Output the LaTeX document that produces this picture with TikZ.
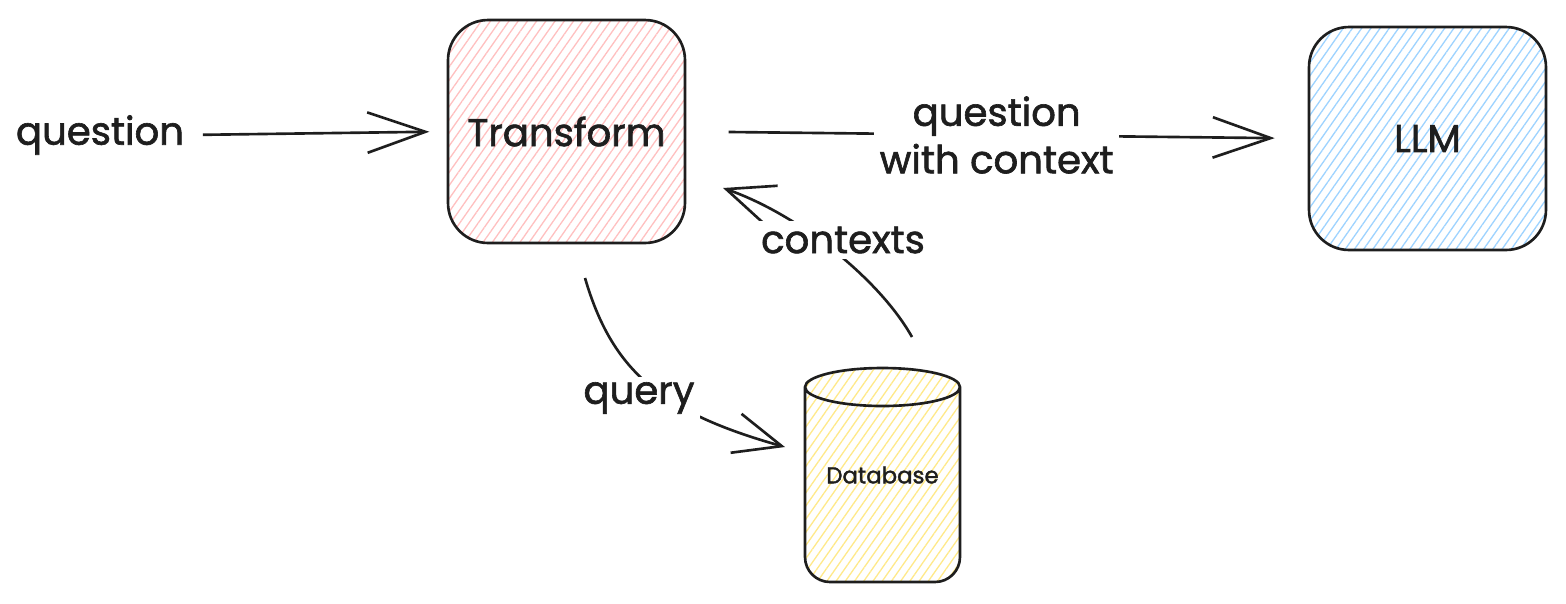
\documentclass[tikz,border=0pt]{standalone}
\usepackage{fontspec}
\setmainfont{Poppins}[FakeBold=1.6]
\usetikzlibrary{arrows.meta,patterns.meta}
\definecolor{ink}{HTML}{1E1E1E}
\definecolor{pinkh}{HTML}{FFC0C0}
\definecolor{blueh}{HTML}{9ED3FF}
\definecolor{yellowh}{HTML}{FFE98A}
\begin{document}
\begin{tikzpicture}[x=0.02cm,y=-0.02cm,
  inkline/.style={draw=ink, line width=1.5pt},
  hatch/.style={pattern={Lines[angle=55,distance=4.3pt,line width=0.75pt]}, pattern color=#1},
  box/.style={inkline, rounded corners=0.8cm, minimum width=4.74cm, minimum height=4.46cm,
    font=\fontsize{22}{26}\selectfont, text=ink},
  lbl/.style={font=\fontsize{22}{27}\selectfont, text=ink, fill=white, inner sep=3pt, align=center},
  bigtip/.style={inkline, -{Straight Barb[length=33pt,width=23pt]}},
  smalltip/.style={inkline, -{Straight Barb[length=27pt,width=23pt]}},
]
\useasboundingbox (0,0) rectangle (1566,603);

% boxes
\node[box, hatch=pinkh] (tr) at (566.5,131.5) {Transform};
\node[box, hatch=blueh] (llm) at (1427.5,138.5) {LLM};

% database cylinder
\path[hatch=yellowh] (805,387) -- (805,557) arc[start angle=180, end angle=90, radius=25]
  -- (935,582) arc[start angle=90, end angle=0, radius=25] -- (960,387)
  arc[start angle=0, end angle=-180, x radius=77.5, y radius=19] -- cycle;
\draw[inkline] (805,387) -- (805,557) arc[start angle=180, end angle=90, radius=25]
  -- (935,582) arc[start angle=90, end angle=0, radius=25] -- (960,387)
  arc[start angle=0, end angle=-180, x radius=77.5, y radius=19]
  arc[start angle=180, end angle=0, x radius=77.5, y radius=19];
\node[font=\fontsize{13}{15}\selectfont, text=ink, minimum width=3.1cm, minimum height=4.28cm] (db) at (882.5,475) {Database};

% input question
\node[font=\fontsize{22}{26}\selectfont, text=ink, inner sep=2pt] (qin) at (100,135) {question};
\draw[bigtip, shorten <=0.3cm, shorten >=0.36cm] (qin.east) -- (tr.west);

% to LLM
\draw[bigtip, shorten <=0.86cm, shorten >=0.66cm] (tr.east) -- (llm.west)
  node[lbl, pos=0.5] (qc) {question\\with context};

% query
\coordinate (qs) at (585,278);
\coordinate (qe) at (785,447);
\draw[smalltip] (qs) .. controls (612,370) and (660,412) .. (qe);
\node[lbl] (ql) at (639,398) {query};

% contexts
\coordinate (cs) at (912,337);
\coordinate (ce) at (723,188);
\draw[smalltip] (cs) .. controls (880,280) and (800,215) .. (ce);
\node[lbl] (cl) at (843,240) {contexts};
\end{tikzpicture}
\end{document}
